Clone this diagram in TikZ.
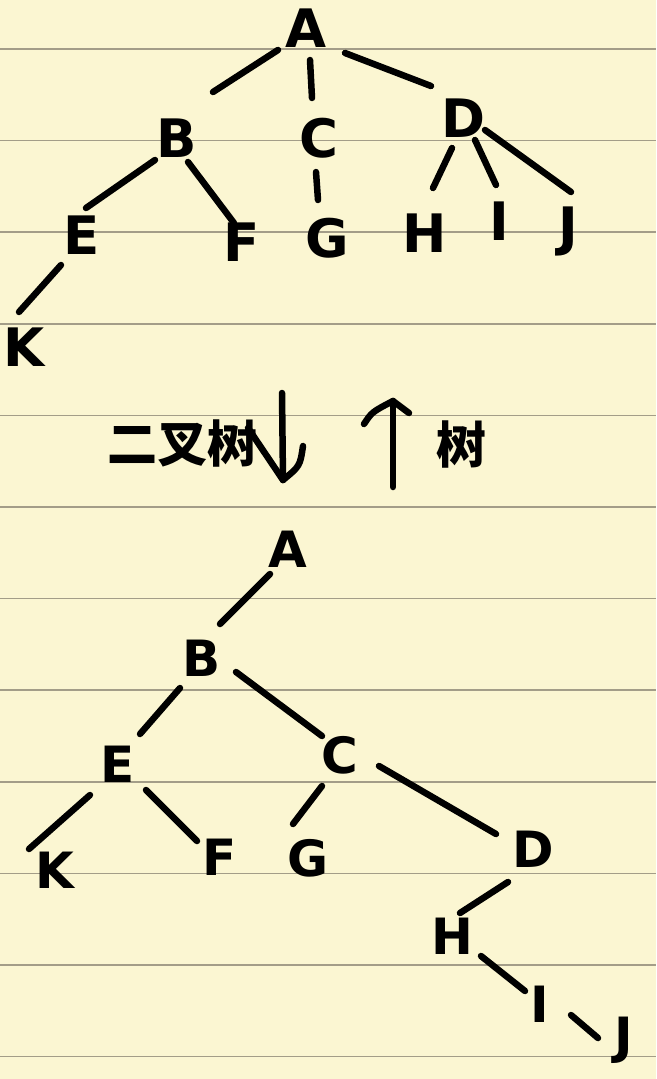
\documentclass[tikz,border=0pt]{standalone}
\usepackage{fontspec}
\setmainfont{DejaVu Sans}
\newfontfamily\cjk{Noto Sans CJK SC}
\usetikzlibrary{calc}
\definecolor{paper}{HTML}{FBF6D2}
\definecolor{ruled}{HTML}{A39D88}
\tikzset{
  lt/.style={font=\fontsize{53}{53}\selectfont\bfseries, inner sep=0pt},
  lb/.style={font=\fontsize{50}{50}\selectfont\bfseries, inner sep=0pt},
  edge/.style={line width=6.5pt, line cap=round, draw=black},
  ruleline/.style={draw=ruled, line width=1.6pt},
  cn/.style={font=\cjk\bfseries\fontsize{50}{50}\selectfont, inner sep=0pt}
}
\begin{document}
\begin{tikzpicture}[x=1pt,y=-1pt]
\fill[paper] (0,0) rectangle (656,1079);
\useasboundingbox (0,0) rectangle (656,1079);
\foreach \k in {0,...,11} \draw[ruleline] (0,{49+91.6*\k}) -- (656,{49+91.6*\k});

% ---- top tree ----
\node[lt] (A) at (306,28) {A};
\node[lt] (B) at (177,138) {B};
\node[lt] (C) at (319,138) {C};
\node[lt] (D) at (463,118) {D};
\node[lt] (E) at (82,235) {E};
\node[lt] (F) at (242,242) {F};
\node[lt] (G) at (327,238) {G};
\node[lt] (H) at (425,233) {H};
\node[lt] (I) at (499,221) {I};
\node[lt] (J) at (568,231) {J};
\node[lt] (K) at (24,347) {K};

\draw[edge] ($(A)+(-28,22)$) -- ($(B)+(36,-46)$);
\draw[edge] ($(A)+(4,32)$) -- ($(C)+(-7,-40)$);
\draw[edge] ($(A)+(39,25)$) -- ($(D)+(-32,-32)$);
\draw[edge] ($(B)+(-22,22)$) -- ($(E)+(4,-27)$);
\draw[edge] ($(B)+(11,24)$) -- ($(F)+(-8,-19)$);
\draw[edge] ($(C)+(-3,34)$) -- ($(G)+(-9,-38)$);
\draw[edge] ($(D)+(-11,30)$) -- ($(H)+(8,-45)$);
\draw[edge] ($(D)+(12,22)$) -- ($(I)+(-3,-36)$);
\draw[edge] ($(D)+(22,12)$) -- ($(J)+(3,-39)$);
\draw[edge] ($(E)+(-21,30)$) -- ($(K)+(-5,-35)$);

% ---- middle labels and arrows ----
\node[cn] (t1) at (182,443) {二叉树};
\node[cn] (t2) at (461,444) {树};
\coordinate (dtop) at (282,393);
\coordinate (dbot) at (283,480);
\draw[edge] (dtop) -- (dbot);
\draw[edge] (248,428) -- (dbot);
\draw[edge] (303,446) .. controls (300,466) .. (dbot);
\coordinate (utop) at (393,401);
\coordinate (ubot) at (393,487);
\draw[edge] (utop) -- (ubot);
\draw[edge] (364,424) .. controls (372,412) .. (utop);
\draw[edge] (utop) -- (409,413);

% ---- bottom tree ----
\node[lb] (a) at (288,549) {A};
\node[lb] (b) at (202,658) {B};
\node[lb] (e) at (118,764) {E};
\node[lb] (c) at (340,755) {C};
\node[lb] (k) at (55,870) {K};
\node[lb] (f) at (220,857) {F};
\node[lb] (g) at (308,858) {G};
\node[lb] (d) at (533,849) {D};
\node[lb] (h) at (452,936) {H};
\node[lb] (i) at (540,1004) {I};
\node[lb] (j) at (624,1040) {J};

\draw[edge] ($(a)+(-18,25)$) -- ($(b)+(18,-34)$);
\draw[edge] ($(b)+(-22,30)$) -- ($(e)+(22,-30)$);
\draw[edge] ($(b)+(34,14)$) -- ($(c)+(-18,-19)$);
\draw[edge] ($(e)+(-28,31)$) -- ($(k)+(-26,-21)$);
\draw[edge] ($(e)+(28,26)$) -- ($(f)+(-23,-16)$);
\draw[edge] ($(c)+(-18,31)$) -- ($(g)+(-15,-34)$);
\draw[edge] ($(c)+(39,11)$) -- ($(d)+(-37,-15)$);
\draw[edge] ($(d)+(-25,33)$) -- ($(h)+(8,-23)$);
\draw[edge] ($(h)+(29,20)$) -- ($(i)+(-15,-13)$);
\draw[edge] ($(i)+(31,11)$) -- ($(j)+(-26,-2)$);
\end{tikzpicture}
\end{document}
